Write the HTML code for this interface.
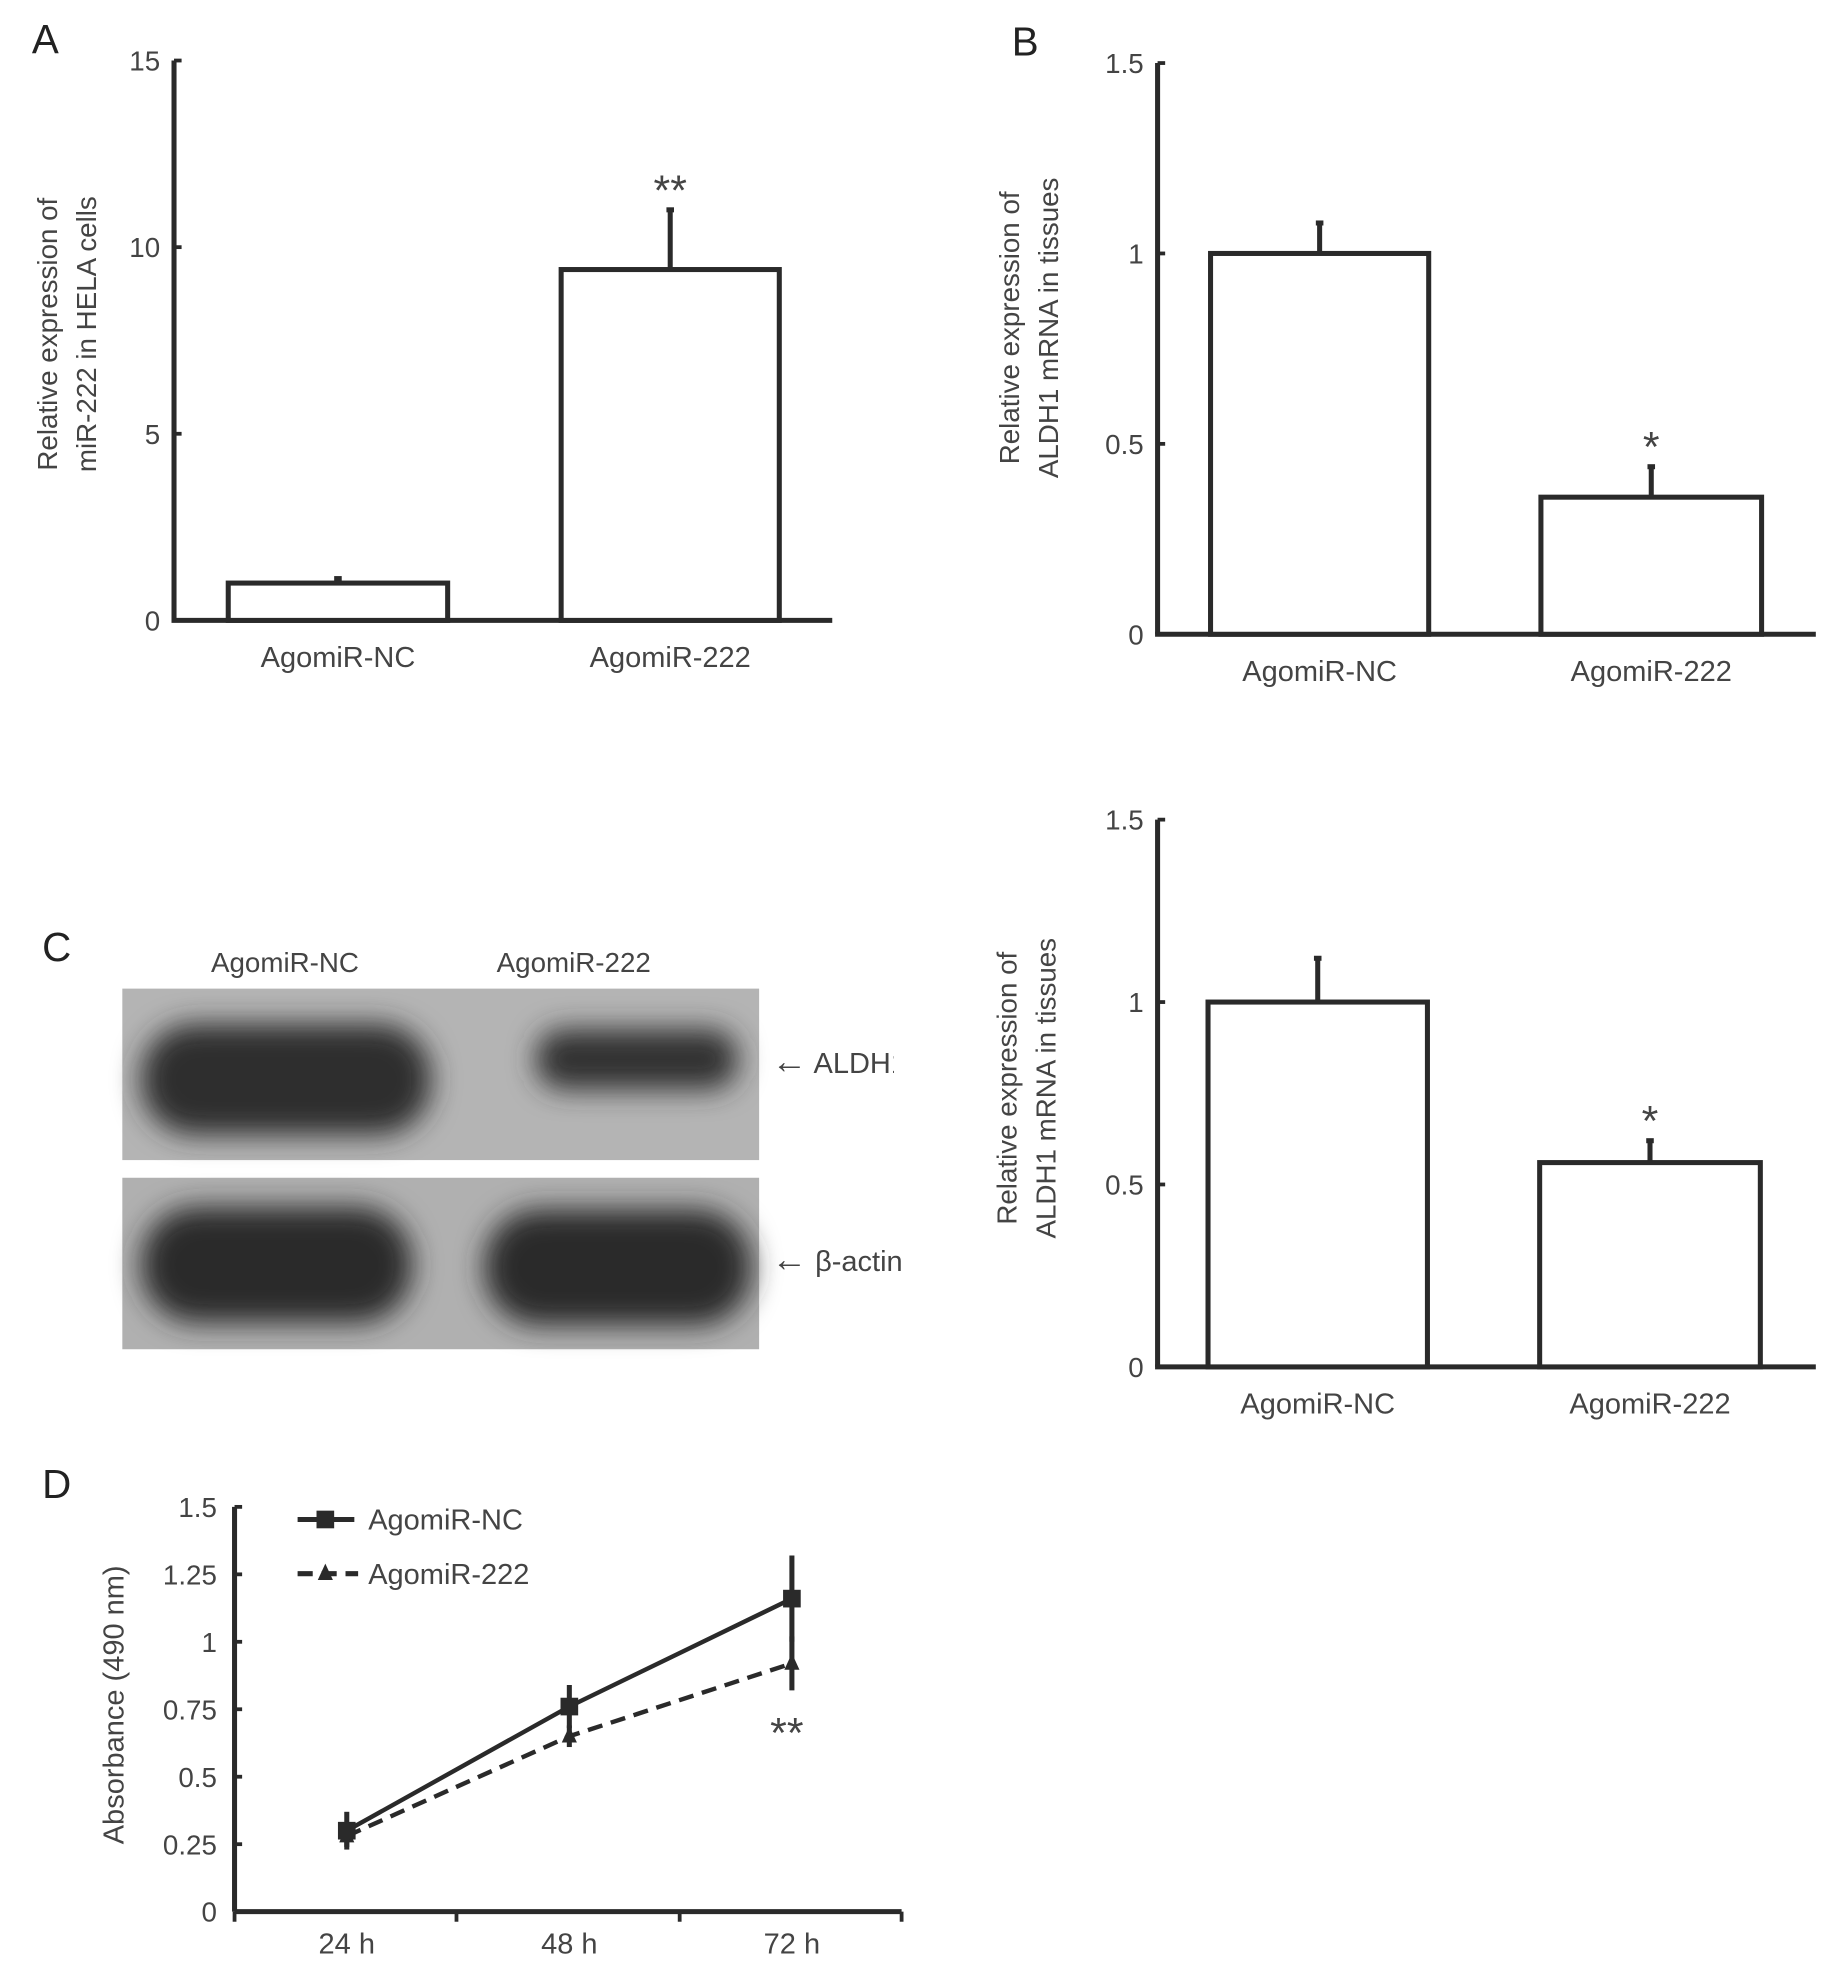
<!DOCTYPE html>
<html><head><meta charset="utf-8"><style>
html,body{margin:0;padding:0;background:#fff}
svg{display:block}
text{font-family:"Liberation Sans",sans-serif;fill:#444}
</style></head><body>
<svg id="fig" width="1836" height="1981" viewBox="0 0 1456 1571" xmlns="http://www.w3.org/2000/svg">
<defs>
<filter id="blur" x="-20%" y="-40%" width="140%" height="180%"><feGaussianBlur stdDeviation="11"/></filter>
<clipPath id="clipC"><rect x="0" y="0" width="709" height="1571"/></clipPath>
</defs>
<g id="root"></g>
<g>
<text x="45" y="762" font-size="32" text-anchor="middle" style="fill:#222">C</text>
<text x="226" y="771" font-size="22" text-anchor="middle">AgomiR-NC</text>
<text x="455" y="771" font-size="22" text-anchor="middle">AgomiR-222</text>
<rect x="97" y="784" width="505" height="136" fill="#b4b4b4"/>
<rect x="97" y="934" width="505" height="136" fill="#b0b0b0"/>
<g filter="url(#blur)">
<rect x="112" y="812" width="230" height="88" rx="42" fill="#2e2e2e"/>
<rect x="425" y="816" width="160" height="48" rx="22" fill="#333"/>
<rect x="112" y="957" width="215" height="92" rx="44" fill="#2c2c2c"/>
<rect x="384" y="959" width="212" height="92" rx="44" fill="#2c2c2c"/>
</g>
<g clip-path="url(#clipC)">
<text x="612" y="851" font-size="23"><tspan font-size="28">←</tspan> ALDH1</text>
</g>
<text x="612" y="1008" font-size="23"><tspan font-size="28">←</tspan> β-actin</text>
</g>
</svg>
<script>
// Panel A data
const catsA = ["AgomiR-NC","AgomiR-222"];
const valsA = [1, 9.4];
const errA = [0.12, 1.6];
const ticksA = [0,5,10,15];
// Panel B top data
const valsB1 = [1, 0.36];
const errB1 = [0.08, 0.08];
// Panel B bottom data
const valsB2 = [1, 0.56];
const errB2 = [0.12, 0.06];
const ticksB = [0,0.5,1,1.5];
const tickLabelsB = ["0","0.5","1","1.5"];
// Panel D data
const timesD = ["24 h","48 h","72 h"];
const ncD = [0.30, 0.76, 1.16];
const ncErrD = [0.07, 0.08, 0.16];
const agD = [0.28, 0.65, 0.92];
const agErrD = [0.04, 0.04, 0.10];
const ticksD = [0,0.25,0.5,0.75,1,1.25,1.5];
const tickLabelsD = ["0","0.25","0.5","0.75","1","1.25","1.5"];

const NS="http://www.w3.org/2000/svg";
const root=document.getElementById('root');
function mk(tag,attrs,parent,txt){const e=document.createElementNS(NS,tag);for(const k in attrs)e.setAttribute(k,attrs[k]);if(txt!==undefined)e.textContent=txt;(parent||root).appendChild(e);return e;}
const STK="#2a2a2a";

function barPanel(cfg){
  const g=mk('g',{});
  
  
  const y=v=>cfg.y0+(cfg.y1-cfg.y0)*(v/cfg.max);
  const ya=mk('line',{x1:cfg.ax,y1:y(cfg.max),x2:cfg.ax,y2:cfg.y0,stroke:STK,'stroke-width':4},g);
  
  
  const xa=mk('line',{x1:cfg.ax-2,y1:cfg.y0,x2:cfg.axEnd,y2:cfg.y0,stroke:STK,'stroke-width':4},g);
  
  
  cfg.ticks.forEach((t,i)=>{
    mk('line',{x1:cfg.ax,y1:y(t),x2:cfg.ax+6,y2:y(t),stroke:STK,'stroke-width':3},g);
    const tl=mk('text',{x:cfg.ax-11,y:y(t)+8,'font-size':22,'text-anchor':'end'},g,cfg.tickLabels[i]);
    
    
  });
  cfg.vals.forEach((v,i)=>{
    const [x0,x1]=cfg.bars[i];
    const cx=(x0+x1)/2;
    const eb=mk('line',{x1:cx,y1:y(v),x2:cx,y2:y(v+cfg.errs[i]),stroke:STK,'stroke-width':4},g);
    
    
    mk('line',{x1:cx-3,y1:y(v+cfg.errs[i]),x2:cx+3,y2:y(v+cfg.errs[i]),stroke:STK,'stroke-width':4},g);
    const r=mk('rect',{x:x0,y:y(v),width:x1-x0,height:cfg.y0-y(v),fill:'#fff',stroke:STK,'stroke-width':4},g);
    
    
    const cl=mk('text',{x:cx,y:cfg.y0+37,'font-size':23,'text-anchor':'middle'},g,catsA[i]);
    
    
  });
  const si=cfg.vals.length-1;
  const [sx0,sx1]=cfg.bars[si];
  const st=mk('text',{x:(sx0+sx1)/2,y:y(cfg.vals[si]+cfg.errs[si])-4,'font-size':34,'text-anchor':'middle'},g,cfg.star);
  
  
  const tg=mk('text',{transform:`translate(${cfg.tx},${cfg.tyc}) rotate(-90)`,'font-size':22,'text-anchor':'middle'},g);
  
  
  mk('tspan',{x:0,y:0},tg,cfg.title[0]);
  mk('tspan',{x:0,y:31},tg,cfg.title[1]);
  if(cfg.letter){
    const L=mk('text',{x:cfg.letter[0],y:cfg.letter[1],'font-size':32,'text-anchor':'middle',style:'fill:#222'},g,cfg.letter[2]);
    
    
  }
}
barPanel({name:'panel-a-chart',ax:138,axEnd:660,y0:492,y1:48,max:15,ticks:ticksA,tickLabels:ticksA.map(String),
  vals:valsA,errs:errA,bars:[[181,355],[445,618]],star:'**',tx:45,tyc:265,
  title:['Relative expression of','miR-222 in HELA cells'],letter:[36,42,'A']});
barPanel({name:'panel-b-top-chart',ax:918,axEnd:1440,y0:503,y1:50,max:1.5,ticks:ticksB,tickLabels:tickLabelsB,
  vals:valsB1,errs:errB1,bars:[[960,1133],[1222,1397]],star:'*',tx:808,tyc:260,
  title:['Relative expression of','ALDH1 mRNA in tissues'],letter:[813,44,'B']});
barPanel({name:'panel-b-bottom-chart',ax:918,axEnd:1440,y0:1084,y1:650,max:1.5,ticks:ticksB,tickLabels:tickLabelsB,
  vals:valsB2,errs:errB2,bars:[[958,1132],[1221,1396]],star:'*',tx:806,tyc:863,
  title:['Relative expression of','ALDH1 mRNA in tissues']});

// Panel D
(function(){
  const g=mk('g',{});
  
  
  const ax=186,y0=1516,y1=1195,max=1.5;
  const y=v=>y0+(y1-y0)*(v/max);
  const xs=[186,362,539,715];
  const px=i=>(xs[i]+xs[i+1])/2+1;
  const L=mk('text',{x:45,y:1188,'font-size':32,'text-anchor':'middle',style:'fill:#222'},g,'D');
  
  
  const ya=mk('line',{x1:ax,y1:y1,x2:ax,y2:y0,stroke:STK,'stroke-width':4},g);
  
  
  const xa=mk('line',{x1:ax,y1:y0,x2:715,y2:y0,stroke:STK,'stroke-width':4},g);
  
  
  xs.forEach(x=>mk('line',{x1:x,y1:y0,x2:x,y2:y0+8,stroke:STK,'stroke-width':3},g));
  ticksD.forEach((t,i)=>{
    mk('line',{x1:ax,y1:y(t),x2:ax+6,y2:y(t),stroke:STK,'stroke-width':3},g);
    const tl=mk('text',{x:ax-14,y:y(t)+8,'font-size':22,'text-anchor':'end'},g,tickLabelsD[i]);
    
    
  });
  timesD.forEach((t,i)=>{
    const tl=mk('text',{x:px(i),y:1549,'font-size':23,'text-anchor':'middle'},g,t);
    
    
  });
  const tt=mk('text',{transform:`translate(98,1352) rotate(-90)`,'font-size':23,'text-anchor':'middle'},g,'Absorbance (490 nm)');
  
  
  function series(vals,errs,dash,marker,name){
    const pts=vals.map((v,i)=>px(i)+','+y(v)).join(' ');
    vals.forEach((v,i)=>{
      const e=mk('line',{x1:px(i),y1:y(v-errs[i]),x2:px(i),y2:y(v+errs[i]),stroke:STK,'stroke-width':4},g);
      
      
    });
    const pl=mk('polyline',{points:pts,fill:'none',stroke:STK,'stroke-width':3.5,'stroke-dasharray':dash},g);
    
    
    vals.forEach((v,i)=>{
      let m;
      if(marker==='sq') m=mk('rect',{x:px(i)-7,y:y(v)-7,width:14,height:14,fill:STK},g);
      else m=mk('polygon',{points:`${px(i)},${y(v)-8} ${px(i)-6},${y(v)+5} ${px(i)+6},${y(v)+5}`,fill:STK},g);
      
      
    });
  }
  series(agD,agErrD,'12,7','tri','agomir-222');
  series(ncD,ncErrD,'none','sq','agomir-nc');
  const st=mk('text',{x:px(2)-4,y:1386,'font-size':34,'text-anchor':'middle'},g,'**');
  
  
  const l1=mk('g',{},g);
  
  
  mk('line',{x1:236,y1:1205,x2:281,y2:1205,stroke:STK,'stroke-width':4},l1);
  mk('rect',{x:251,y:1198,width:14,height:14,fill:STK},l1);
  mk('text',{x:292,y:1213,'font-size':23},l1,'AgomiR-NC');
  const l2=mk('g',{},g);
  
  
  mk('line',{x1:236,y1:1248,x2:284,y2:1248,stroke:STK,'stroke-width':4,'stroke-dasharray':'12,7'},l2);
  mk('polygon',{points:'258,1240 252,1253 264,1253',fill:STK},l2);
  mk('text',{x:292,y:1256,'font-size':23},l2,'AgomiR-222');
})();
</script>
</body></html>
